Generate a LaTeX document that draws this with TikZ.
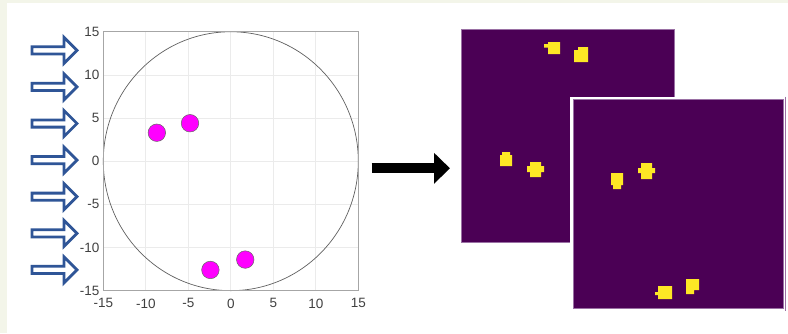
\documentclass[tikz,border=0pt]{standalone}
\usepackage{fontspec}
\setmainfont{Liberation Sans}
\usetikzlibrary{arrows.meta}
\definecolor{bgside}{HTML}{F3F5E9}
\definecolor{gridc}{HTML}{EBEBEB}
\definecolor{axc}{HTML}{A6A6A6}
\definecolor{circc}{HTML}{606060}
\definecolor{labc}{HTML}{404040}
\definecolor{magc}{HTML}{FF00FF}
\definecolor{arrblue}{HTML}{2F5597}
\definecolor{vpurple}{HTML}{4B0055}
\definecolor{vedge}{HTML}{9A70A4}
\definecolor{vyellow}{HTML}{FDE725}
\tikzset{
  gridline/.style={draw=gridc, line width=0.8pt},
  axbox/.style={draw=axc, line width=0.8pt},
  ticklab/.style={text=labc, font=\fontsize{13.5}{13.5}\selectfont, inner sep=0pt},
  dot/.style={circle, fill=magc, draw=black!60, line width=0.5pt, minimum size=17.5pt, inner sep=0pt},
  hollowarrow/.style={draw=arrblue, fill=white, line width=2.8pt, line join=miter},
  imgback/.style={fill=vpurple, draw=vedge, line width=0.8pt},
  blob/.style={fill=vyellow},
  bigarrow/.style={draw=black, line width=10pt, -{Triangle[length=16pt, width=30pt]}}
}
\begin{document}
\begin{tikzpicture}[x=1pt, y=-1pt]
\useasboundingbox (0,0) rectangle (788,333);
% background
\fill[bgside] (0,0) rectangle (788,333);
\fill[white] (7,3) rectangle (788,333);

% plot
\begin{scope}[shift={(230.8,161.2)}, x=8.5pt, y=8.63pt]
  \foreach \t in {-10,-5,0,5,10} {
    \draw[gridline] (\t,-15) -- (\t,15);
    \draw[gridline] (-15,\t) -- (15,\t);
  }
  \draw[circc, line width=0.7pt] (0,0) circle [x radius=15, y radius=15];
  \node[axbox, minimum width=255pt, minimum height=258.9pt, inner sep=0pt] (plotbox) at (0,0) {};
  \foreach \t in {-15,-10,-5,0,5,10,15} {
    \node[ticklab, anchor=east] (yl\t) at (-15.45,\t) {\t};
    \node[ticklab, anchor=north] (xl\t) at (\t,-15.9) {\t};
  }
  \node[dot] (d1) at (-8.7,3.3) {};
  \node[dot] (d2) at (-4.8,4.4) {};
  \node[dot] (d3) at (-2.4,-12.6) {};
  \node[dot] (d4) at (1.7,-11.4) {};
\end{scope}

% blue hollow arrows
\foreach \i in {0,...,6} {
  \pgfmathsetmacro{\cy}{50.3+36.6*\i}
  \draw[hollowarrow] (32,\cy-3.6) -- (64,\cy-3.6) -- (64,\cy-13) -- (77,\cy) -- (64,\cy+13) -- (64,\cy+3.6) -- (32,\cy+3.6) -- cycle;
}

% images
\node[imgback, minimum width=213.3pt, minimum height=213pt, inner sep=0pt, anchor=north west] (img1) at (460.7,29) {};
\fill[white] (570.2,96.5) rectangle (785.5,311);
\draw[vedge, line width=0.9pt] (785.2,96.5) -- (785.2,311);
\node[imgback, minimum width=210pt, minimum height=209pt, inner sep=0pt, anchor=north west] (img2) at (572.7,99) {};

% yellow blobs (back image)
\fill[blob] (548,42) rectangle (560,54) (544,44) rectangle (548,47.5);
\fill[blob] (574,50) rectangle (588,62) (578,47) rectangle (588,50);
\fill[blob] (500,155) rectangle (512,166) (502,152) rectangle (510,155);
\fill[blob] (530,162) rectangle (541,177) (527,166) rectangle (544,172);
% yellow blobs (front image)
\fill[blob] (611,173) rectangle (623,185) (613,185) rectangle (621,189);
\fill[blob] (641,163) rectangle (652,179) (638,168) rectangle (655,173);
\fill[blob] (658,286) rectangle (672,299) (655,292) rectangle (658,295);
\fill[blob] (686,279) rectangle (699,290) (686,290) rectangle (694,294);

% black arrow
\coordinate (as) at (371.7,168.3);
\coordinate (ae) at (450,168.3);
\draw[bigarrow] (as) -- (ae);
\end{tikzpicture}
\end{document}
